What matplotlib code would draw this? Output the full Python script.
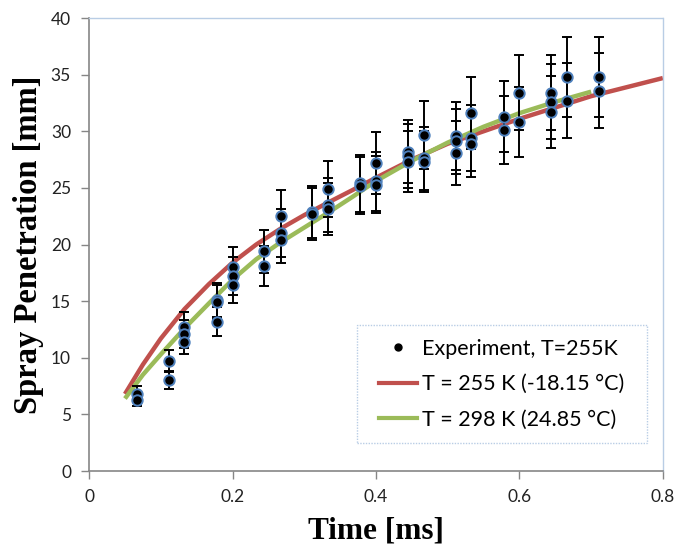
import matplotlib
matplotlib.use("Agg")
import matplotlib.pyplot as plt
from matplotlib.lines import Line2D
from matplotlib.patches import Rectangle

# ── data ──────────────────────────────────────────────────────────────────────
exp_time = [0.067, 0.067,
            0.111, 0.111,
            0.133, 0.133, 0.133,
            0.178, 0.178, 0.178,
            0.200, 0.200, 0.200,
            0.244, 0.244,
            0.267, 0.267, 0.267,
            0.311, 0.311,
            0.333, 0.333, 0.333,
            0.378, 0.378,
            0.400, 0.400, 0.400,
            0.444, 0.444, 0.444,
            0.467, 0.467, 0.467,
            0.511, 0.511, 0.511,
            0.533, 0.533, 0.533,
            0.578, 0.578,
            0.600, 0.600,
            0.644, 0.644, 0.644,
            0.667, 0.667,
            0.711, 0.711]
exp_pen = [6.8, 6.3,
           9.7, 8.0,
           12.7, 12.1, 11.4,
           15.1, 14.9, 13.2,
           18.0, 17.2, 16.4,
           19.4, 18.1,
           22.5, 21.0, 20.4,
           22.9, 22.7,
           24.9, 23.5, 23.1,
           25.4, 25.2,
           27.2, 25.6, 25.3,
           28.2, 27.8, 27.3,
           29.7, 27.6, 27.3,
           29.6, 29.1, 28.1,
           31.6, 29.4, 28.9,
           31.3, 30.1,
           33.4, 30.8,
           33.4, 32.6, 31.7,
           34.8, 32.7,
           34.8, 33.6]
exp_err = [0.7, 0.6,
           1.0, 0.8,
           1.3, 1.2, 1.1,
           1.5, 1.5, 1.3,
           1.8, 1.7, 1.6,
           1.9, 1.8,
           2.3, 2.1, 2.0,
           2.3, 2.3,
           2.5, 2.4, 2.3,
           2.5, 2.5,
           2.7, 2.6, 2.5,
           2.8, 2.8, 2.7,
           3.0, 2.8, 2.7,
           3.0, 2.9, 2.8,
           3.2, 2.9, 2.9,
           3.1, 3.0,
           3.3, 3.1,
           3.3, 3.3, 3.2,
           3.5, 3.3,
           3.5, 3.3]

red_time = [0.05, 0.075, 0.10, 0.133, 0.167, 0.20, 0.233, 0.267, 0.30, 0.333,
            0.367, 0.40, 0.45, 0.50, 0.55, 0.60, 0.65, 0.70, 0.75, 0.80]
red_pen = [6.8, 9.4, 11.7, 14.3, 16.5, 18.4, 20.0, 21.4, 22.6, 23.7,
           24.8, 25.9, 27.5, 28.9, 30.0, 31.1, 32.1, 33.1, 33.9, 34.7]

green_time = [0.05, 0.075, 0.10, 0.133, 0.167, 0.20, 0.233, 0.267, 0.30, 0.333,
              0.367, 0.40, 0.45, 0.50, 0.55, 0.60, 0.65, 0.70]
green_pen = [6.4, 8.5, 10.3, 12.6, 14.8, 16.9, 18.7, 20.2, 21.5, 22.8,
             24.2, 25.6, 27.4, 29.0, 30.4, 31.6, 32.6, 33.5]

x_ticks = [0, 0.2, 0.4, 0.6, 0.8]
x_labels = ["0", "0.2", "0.4", "0.6", "0.8"]
y_ticks = [0, 5, 10, 15, 20, 25, 30, 35, 40]

labels = ["Experiment, T=255K", "T = 255 K (-18.15 °C)", "T = 298 K (24.85 °C)"]

# ── style ─────────────────────────────────────────────────────────────────────
C_RED = "#c0504d"
C_GREEN = "#9bbb59"
C_MARK_EDGE = "#4f81bd"
C_FRAME = "#b9cde5"
C_AXIS = "#868686"
SANS = "Lato"
SERIF = "Liberation Serif"

fig = plt.figure(figsize=(6.75, 5.5), dpi=100)
ax = fig.add_axes([0.132, 0.1436, 0.850, 0.8236])

ax.plot(red_time, red_pen, color=C_RED, lw=3.2, solid_capstyle="butt", zorder=2)
ax.plot(green_time, green_pen, color=C_GREEN, lw=3.2, solid_capstyle="butt", zorder=2)

ax.errorbar(exp_time, exp_pen, yerr=exp_err, fmt="o", color="black",
            ecolor="black", elinewidth=1.4, capsize=3.6, capthick=1.4,
            markersize=7.5, markerfacecolor="black",
            markeredgecolor=C_MARK_EDGE, markeredgewidth=1.4, zorder=3)

# ── axes ──────────────────────────────────────────────────────────────────────
ax.set_xlim(0, 0.8)
ax.set_ylim(0, 40)
ax.set_xticks(x_ticks)
ax.set_xticklabels(x_labels)
ax.set_yticks(y_ticks)
ax.tick_params(direction="out", length=6, width=1, color=C_AXIS,
               labelsize=12.5, labelcolor="#222222", pad=7)
for lab in ax.get_xticklabels() + ax.get_yticklabels():
    lab.set_fontfamily(SANS)

for side in ["left", "bottom"]:
    ax.spines[side].set_color(C_AXIS)
    ax.spines[side].set_linewidth(1.2)
for side in ["top", "right"]:
    ax.spines[side].set_color(C_FRAME)
    ax.spines[side].set_linewidth(1.0)
    ax.spines[side].set_linestyle((0, (1, 1)))

ax.set_xlabel("Time [ms]", fontsize=22.5, fontweight="bold",
              fontfamily=SERIF, labelpad=8)
ax.set_ylabel("Spray Penetration [mm]", fontsize=23.5, fontweight="bold",
              fontfamily=SERIF, labelpad=5)

# ── legend (frame drawn separately so the side padding matches) ──────────────
ax.add_patch(Rectangle((0.467, 0.062), 0.505, 0.260, transform=ax.transAxes,
                       facecolor="white", edgecolor=C_FRAME, lw=1.0,
                       linestyle=(0, (1, 1)), zorder=4))
handles = [
    Line2D([], [], marker="o", ls="none", color="black", markersize=5),
    Line2D([], [], color=C_RED, lw=3),
    Line2D([], [], color=C_GREEN, lw=3),
]
leg = ax.legend(handles, labels, loc="center",
                bbox_to_anchor=(0.7195, 0.192), frameon=False,
                prop={"family": SANS, "size": 15.5}, handlelength=1.75,
                handletextpad=0.25, labelspacing=0.72, borderpad=0,
                borderaxespad=0)
leg.set_zorder(5)

fig.savefig("out.png", dpi=100, facecolor="white")
